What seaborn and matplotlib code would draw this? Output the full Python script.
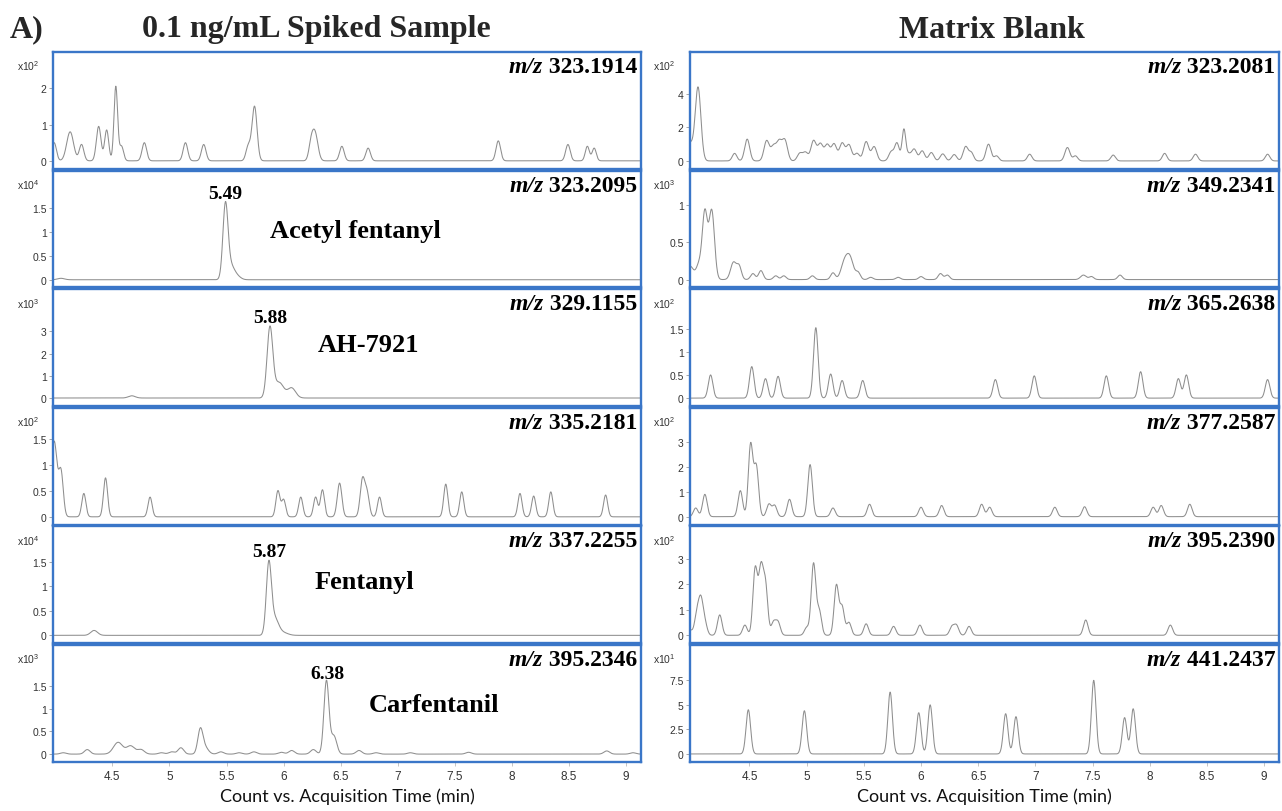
import numpy as np
import matplotlib
matplotlib.use("Agg")
import matplotlib.pyplot as plt
import seaborn as sns

# ---------------- data (peak tables) ----------------
# Left column: 0.1 ng/mL Spiked Sample
sp1_t = [3.99, 4.13, 4.23, 4.38, 4.45, 4.53, 4.58, 4.78, 5.14, 5.30, 5.69, 5.745, 6.24, 6.275, 6.51, 6.74, 7.88, 8.49, 8.66, 8.72]
sp1_h = [0.5, 0.8, 0.45, 0.95, 0.85, 2.05, 0.4, 0.5, 0.5, 0.45, 0.4, 1.5, 0.4, 0.75, 0.4, 0.35, 0.55, 0.45, 0.4, 0.35]
sp1_w = [0.02, 0.03, 0.02, 0.02, 0.018, 0.016, 0.018, 0.02, 0.02, 0.02, 0.02, 0.022, 0.02, 0.025, 0.02, 0.02, 0.02, 0.02, 0.018, 0.018]

sp2_t = [4.05, 5.49, 5.535, 5.60]
sp2_h = [0.03, 1.5, 0.3, 0.05]
sp2_w = [0.03, 0.022, 0.035, 0.03]

sp3_t = [4.67, 5.88, 5.96, 6.07]
sp3_h = [0.1, 3.15, 0.7, 0.45]
sp3_w = [0.03, 0.025, 0.04, 0.035]

sp4_t = [3.99, 4.05, 4.25, 4.44, 4.83, 5.95, 6.00, 6.15, 6.28, 6.34, 6.49, 6.69, 6.73, 6.84, 7.42, 7.56, 8.07, 8.19, 8.34, 8.82]
sp4_h = [1.45, 0.85, 0.45, 0.75, 0.38, 0.5, 0.33, 0.38, 0.38, 0.52, 0.65, 0.7, 0.45, 0.38, 0.63, 0.48, 0.45, 0.4, 0.48, 0.42]
sp4_w = [0.025, 0.02, 0.018, 0.018, 0.018, 0.018, 0.018, 0.018, 0.018, 0.018, 0.02, 0.02, 0.02, 0.018, 0.018, 0.018, 0.018, 0.018, 0.018, 0.018]

sp5_t = [4.34, 5.87, 5.92, 6.00]
sp5_h = [0.1, 1.4, 0.35, 0.05]
sp5_w = [0.03, 0.022, 0.035, 0.04]

sp6_t = [4.07, 4.28, 4.55, 4.66, 4.75, 4.93, 5.02, 5.10, 5.27, 5.31, 5.45, 5.61, 5.74, 5.98, 6.07, 6.26, 6.375, 6.44, 6.66, 6.81, 7.11, 7.62, 8.83, 9.06]
sp6_h = [0.03, 0.1, 0.26, 0.18, 0.1, 0.03, 0.05, 0.14, 0.52, 0.15, 0.05, 0.03, 0.05, 0.04, 0.08, 0.1, 1.62, 0.4, 0.08, 0.03, 0.03, 0.04, 0.07, 0.03]
sp6_w = [0.025, 0.025, 0.04, 0.035, 0.03, 0.025, 0.025, 0.025, 0.022, 0.03, 0.025, 0.025, 0.025, 0.025, 0.025, 0.025, 0.022, 0.025, 0.025, 0.025, 0.025, 0.025, 0.025, 0.025]

# Right column: Matrix Blank
mb1_t = [3.98, 4.05, 4.37, 4.48, 4.65, 4.71, 4.76, 4.81, 4.94, 4.99, 5.06, 5.12, 5.18, 5.24, 5.31, 5.37, 5.44, 5.52, 5.59, 5.74, 5.79, 5.85, 5.89, 5.94, 6.01, 6.09, 6.19, 6.29, 6.39, 6.44, 6.59, 6.66, 6.95, 7.28, 7.35, 7.68, 8.13, 8.40, 9.03]
mb1_h = [1.0, 4.4, 0.45, 1.3, 1.2, 0.85, 1.1, 1.2, 0.45, 0.5, 1.2, 1.0, 0.95, 1.0, 1.05, 0.95, 0.45, 1.15, 0.85, 0.55, 1.05, 1.85, 0.38, 0.7, 0.6, 0.5, 0.42, 0.38, 0.85, 0.48, 1.0, 0.3, 0.4, 0.8, 0.3, 0.35, 0.45, 0.4, 0.4]
mb1_w = [0.025, 0.025, 0.02, 0.022, 0.023, 0.023, 0.023, 0.023, 0.022, 0.022, 0.023, 0.023, 0.023, 0.023, 0.023, 0.023, 0.022, 0.023, 0.023, 0.022, 0.02, 0.016, 0.02, 0.022, 0.022, 0.022, 0.022, 0.022, 0.022, 0.02, 0.022, 0.02, 0.02, 0.022, 0.02, 0.02, 0.02, 0.02, 0.02]

mb2_t = [3.98, 4.06, 4.11, 4.17, 4.36, 4.41, 4.53, 4.60, 4.73, 4.80, 5.05, 5.23, 5.33, 5.38, 5.45, 5.56, 5.80, 6.00, 6.17, 6.23, 7.42, 7.49, 7.74]
mb2_h = [0.18, 0.2, 0.88, 0.92, 0.23, 0.17, 0.08, 0.12, 0.05, 0.05, 0.05, 0.09, 0.22, 0.27, 0.09, 0.03, 0.03, 0.04, 0.08, 0.06, 0.06, 0.04, 0.06]
mb2_w = [0.03, 0.025, 0.022, 0.024, 0.025, 0.02, 0.02, 0.02, 0.02, 0.02, 0.02, 0.02, 0.03, 0.03, 0.02, 0.02, 0.02, 0.02, 0.02, 0.02, 0.025, 0.02, 0.02]

mb3_t = [4.16, 4.52, 4.64, 4.75, 5.08, 5.21, 5.31, 5.49, 6.65, 6.99, 7.62, 7.92, 8.25, 8.32, 9.03]
mb3_h = [0.5, 0.68, 0.42, 0.47, 1.52, 0.52, 0.38, 0.38, 0.4, 0.48, 0.48, 0.57, 0.42, 0.5, 0.4]

mb4_t = [4.03, 4.11, 4.42, 4.51, 4.56, 4.67, 4.72, 4.85, 5.03, 5.23, 5.55, 6.00, 6.18, 6.53, 6.60, 7.17, 7.43, 8.03, 8.10, 8.35]
mb4_h = [0.35, 0.9, 1.05, 2.9, 2.0, 0.5, 0.45, 0.7, 2.1, 0.35, 0.5, 0.38, 0.45, 0.5, 0.38, 0.38, 0.4, 0.38, 0.45, 0.5]

mb5_t = [3.98, 4.04, 4.075, 4.11, 4.24, 4.46, 4.55, 4.60, 4.64, 4.71, 4.75, 5.00, 5.06, 5.11, 5.26, 5.31, 5.37, 5.52, 5.76, 5.99, 6.27, 6.31, 6.42, 7.44, 8.18]
mb5_h = [0.2, 0.8, 1.3, 0.45, 0.8, 0.4, 2.6, 2.5, 1.9, 0.5, 0.5, 0.3, 2.8, 0.95, 1.95, 1.1, 0.5, 0.45, 0.35, 0.4, 0.33, 0.38, 0.35, 0.6, 0.4]

mb6_t = [4.49, 4.98, 5.73, 5.98, 6.08, 6.74, 6.83, 7.51, 7.78, 7.855]
mb6_h = [4.5, 4.4, 6.3, 4.2, 5.0, 4.1, 3.8, 7.5, 3.7, 4.6]

left_mz = ["323.1914", "323.2095", "329.1155", "335.2181", "337.2255", "395.2346"]
right_mz = ["323.2081", "349.2341", "365.2638", "377.2587", "395.2390", "441.2437"]
left_exp = [2, 4, 3, 2, 4, 3]
right_exp = [2, 3, 2, 2, 2, 1]
left_yticks = [[0, 1, 2], [0, 0.5, 1, 1.5], [0, 1, 2, 3], [0, 0.5, 1, 1.5], [0, 0.5, 1, 1.5], [0, 0.5, 1, 1.5]]
right_yticks = [[0, 2, 4], [0, 0.5, 1], [0, 0.5, 1, 1.5], [0, 1, 2, 3], [0, 1, 2, 3], [0, 2.5, 5, 7.5]]
left_ylim = [(-0.22, 3.0), (-0.16, 2.28), (-0.36, 4.9), (-0.15, 2.1), (-0.16, 2.22), (-0.17, 2.41)]
right_ylim = [(-0.47, 6.5), (-0.105, 1.46), (-0.17, 2.35), (-0.32, 4.39), (-0.31, 4.27), (-0.8, 11.1)]
compounds = {1: ("Acetyl fentanyl", 5.49, "5.49", 0.514, 0.49),
             2: ("AH-7921", 5.88, "5.88", 0.537, 0.53),
             4: ("Fentanyl", 5.87, "5.87", 0.529, 0.53),
             5: ("Carfentanil", 6.38, "6.38", 0.648, 0.49)}
xticks = [4.5, 5, 5.5, 6, 6.5, 7, 7.5, 8, 8.5, 9]
xlim = (3.98, 9.13)

DEFAULT_W = 0.02
left_peaks = [(sp1_t, sp1_h, sp1_w), (sp2_t, sp2_h, sp2_w), (sp3_t, sp3_h, sp3_w),
              (sp4_t, sp4_h, sp4_w), (sp5_t, sp5_h, sp5_w), (sp6_t, sp6_h, sp6_w)]
right_peaks = [(mb1_t, mb1_h, mb1_w), (mb2_t, mb2_h, mb2_w), (mb3_t, mb3_h, None),
               (mb4_t, mb4_h, None), (mb5_t, mb5_h, None), (mb6_t, mb6_h, None)]

# ---------------- styling ----------------
sns.set_theme(style="white")
plt.rcParams["font.family"] = ["Liberation Sans", "DejaVu Sans"]
BLUE = "#3a76c8"
TRACE = "#8e8e8e"
SERIF = "Liberation Serif"

W, H = 1282, 812
fig = plt.figure(figsize=(W / 100, H / 100), dpi=100)

grid = np.linspace(xlim[0], xlim[1], 3000)


def build_trace(t, h, w):
    if w is None:
        w = [DEFAULT_W] * len(t)
    y = np.zeros_like(grid)
    for ti, hi, wi in zip(t, h, w):
        y += hi * np.exp(-0.5 * ((grid - ti) / wi) ** 2)
    return y


top_px, step_px, hgt_px = 53, 118.6, 116.8
cols = [(53, 588, left_peaks, left_mz, left_exp, left_yticks, left_ylim),
        (690, 589, right_peaks, right_mz, right_exp, right_yticks, right_ylim)]

for ci, (x0, wpx, peaks, mzs, exps, yts, ylims) in enumerate(cols):
    for i in range(6):
        top = top_px + i * step_px
        ax = fig.add_axes([x0 / W, 1 - (top + hgt_px) / H, wpx / W, hgt_px / H])
        t, h, w = peaks[i]
        y = build_trace(t, h, w)
        sns.lineplot(x=grid, y=y, ax=ax, color=TRACE, linewidth=0.75, estimator=None)
        ax.set_xlim(*xlim)
        ax.set_ylim(*ylims[i])
        ax.set_xlabel("")
        ax.set_ylabel("")
        for s in ax.spines.values():
            s.set_color(BLUE)
            s.set_linewidth(1.7)
            s.set_visible(True)
        ax.set_yticks(yts[i])
        ax.set_yticklabels(["{:g}".format(v) for v in yts[i]])
        ax.tick_params(axis="y", left=True, length=3, width=0.6, color="#999999",
                       labelsize=7.5, labelcolor="#333333", pad=1.5)
        if i == 5:
            ax.set_xticks(xticks)
            ax.set_xticklabels(["{:g}".format(v) for v in xticks])
            ax.tick_params(axis="x", bottom=True, length=3, width=0.6, color="#bbbbbb",
                           labelsize=8.5, labelcolor="#333333", pad=3)
            ax.set_xlabel("Count vs. Acquisition Time (min)", fontsize=13,
                          family=["Lato", "DejaVu Sans"], color="#111111", labelpad=4)
        else:
            ax.set_xticks([])
        # exponent label
        ax.text(-0.062, 0.885, "x10" + r"$^{\mathregular{%d}}$" % exps[i],
                transform=ax.transAxes, fontsize=7.5, color="#333333", ha="left", va="center")
        # m/z label
        num = ax.text(0.994, 0.875, " " + mzs[i], transform=ax.transAxes, ha="right", va="center",
                      fontsize=17, fontweight="bold", family=SERIF, color="black")
        ax.annotate("m/z", xy=(0, 0.5), xycoords=num, ha="right", va="center",
                    fontsize=17, fontweight="bold", fontstyle="italic", family=SERIF, color="black")
        if ci == 0 and i in compounds:
            name, rt, rtlab, nx, ny = compounds[i]
            ax.text(nx, ny, name, transform=ax.transAxes, ha="center", va="center",
                    fontsize=19, fontweight="bold", family=SERIF, color="black")
            peak_top = y[np.argmin(np.abs(grid - rt))]
            ax.annotate(rtlab, xy=(rt, peak_top), xytext=(0, 3), textcoords="offset points",
                        ha="center", va="baseline", fontsize=14, fontweight="bold",
                        family=SERIF, color="black")

fig.text(27 / W, 1 - 30 / H, "A)", ha="center", va="center", fontsize=23,
         fontweight="bold", family=SERIF)
fig.text(316 / W, 1 - 30 / H, "0.1 ng/mL Spiked Sample", ha="center", va="center",
         fontsize=23, fontweight="bold", family=SERIF)
fig.text(992 / W, 1 - 30 / H, "Matrix Blank", ha="center", va="center", fontsize=23,
         fontweight="bold", family=SERIF)

fig.savefig("out.png", dpi=100, facecolor="white")
